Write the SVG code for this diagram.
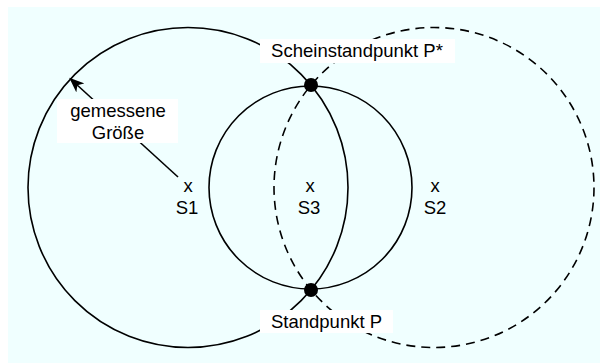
<svg xmlns="http://www.w3.org/2000/svg" width="600" height="363" viewBox="0 0 600 363">
<style>
.c{fill:none;stroke:#000;stroke-width:1.6}
.d{stroke-dasharray:9 6}
.t{font-family:"Liberation Sans",Arial,sans-serif;font-size:18.5px;fill:#000;text-anchor:middle}
.bg{fill:#fff}
</style>
<defs>
<marker id="ah" markerWidth="16" markerHeight="12" refX="14" refY="6" orient="auto" markerUnits="userSpaceOnUse">
<path d="M0,0 L15,6 L0,12 L4,6 Z" fill="#000"/>
</marker>
</defs>
<rect width="600" height="363" fill="#fff"/>
<rect x="8" y="7" width="592" height="356" fill="#f0ffff"/>
<g id="connectors">
<circle class="c" cx="188" cy="187.5" r="160"/>
<circle class="c d" cx="434" cy="187.5" r="160"/>
<circle class="c" cx="310.5" cy="187.5" r="101.5"/>
<line class="c" x1="178" y1="177" x2="70" y2="78.5" marker-end="url(#ah)"/>
</g>
<g id="P-star"><circle cx="311" cy="85" r="7"/></g>
<g id="P"><circle cx="311" cy="290" r="7"/></g>
<g id="label-gemessene">
<rect class="bg" x="57" y="99" width="121" height="44"/>
<text class="t" x="118" y="117">gemessene</text>
<text class="t" x="118" y="138.5">Größe</text>
</g>
<g id="label-schein">
<rect class="bg" x="260" y="39" width="195" height="24"/>
<text class="t" x="357" y="57">Scheinstandpunkt P*</text>
</g>
<g id="label-standpunkt">
<rect class="bg" x="260" y="310" width="133" height="23"/>
<text class="t" x="326.5" y="328">Standpunkt P</text>
</g>
<g id="S1"><text class="t" x="188" y="192">x</text><text class="t" x="187" y="214">S1</text></g>
<g id="S3"><text class="t" x="310" y="192">x</text><text class="t" x="309" y="214">S3</text></g>
<g id="S2"><text class="t" x="435" y="192">x</text><text class="t" x="435" y="214">S2</text></g>
</svg>
